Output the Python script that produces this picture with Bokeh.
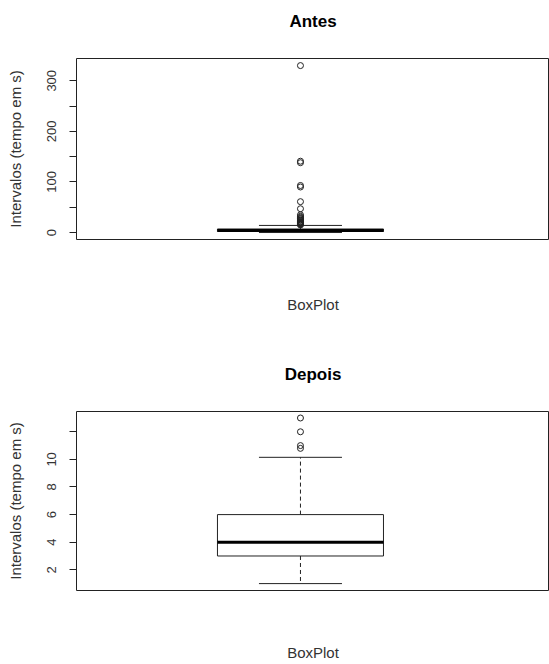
from bokeh.plotting import figure
from bokeh.layouts import column
from bokeh.models import FixedTicker, ColumnDataSource, Range1d, LinearAxis
from bokeh.embed import file_html
from bokeh.resources import INLINE

# ---- data ----
titles = ["Antes", "Depois"]
x_label = "BoxPlot"
y_label = "Intervalos (tempo em s)"

# [lower whisker, Q1, median, Q3, upper whisker]
antes_stats = [0, 2, 4, 7, 14]
antes_outliers = [330, 141, 138, 93, 90, 61, 47, 35, 32, 30, 28, 27, 25, 24, 22,
                  21, 20, 19, 18, 17, 16, 15]
depois_stats = [1, 3, 4, 6, 10.15]
depois_outliers = [13, 12, 11, 10.8]

antes_ticks = [0, 50, 100, 150, 200, 250, 300]
antes_labels = {50: "", 150: "", 250: ""}
depois_ticks = [2, 4, 6, 8, 10, 12]
depois_labels = {12: ""}

FONT = "Liberation Sans"
INK = "#222222"
WIDTH = 549
LEFT = 76


def label_only_axis(ax, text, size, style, color, standoff):
    ax.ticker = FixedTicker(ticks=[])
    ax.axis_line_color = None
    ax.major_tick_line_color = None
    ax.minor_tick_line_color = None
    ax.major_label_text_font_size = "0px"
    ax.axis_label = text
    ax.axis_label_text_font = FONT
    ax.axis_label_text_font_size = size
    ax.axis_label_text_font_style = style
    ax.axis_label_text_color = color
    ax.axis_label_standoff = standoff


def make_panel(title, stats, outliers, ticks, overrides, yr, height, top, bottom, title_standoff, xlab_standoff):
    p = figure(width=WIDTH, height=height, output_backend="svg", toolbar_location=None,
               x_range=Range1d(-0.349, 2.5), y_range=Range1d(*yr),
               min_border_left=LEFT, min_border_right=0, min_border_top=top,
               min_border_bottom=bottom)
    p.grid.visible = False
    p.background_fill_color = "white"
    p.border_fill_color = "white"
    p.outline_line_color = INK
    p.outline_line_width = 1
    p.outline_line_alpha = 1

    # x axis below: only the label
    label_only_axis(p.below[0], x_label, "15px", "normal", "#333333", xlab_standoff)

    # main title drawn as the label of a bare axis above the frame
    top_axis = LinearAxis()
    label_only_axis(top_axis, title, "17px", "bold", "black", title_standoff)
    p.add_layout(top_axis, "above")

    # y axis (R style)
    ya = p.left[0]
    ya.ticker = FixedTicker(ticks=ticks)
    ya.major_label_overrides = overrides
    ya.minor_tick_line_color = None
    ya.axis_line_color = None
    ya.major_tick_in = 0
    ya.major_tick_out = 7
    ya.major_tick_line_color = INK
    ya.major_label_orientation = "vertical"
    ya.major_label_text_font = FONT
    ya.major_label_text_font_size = "13px"
    ya.major_label_text_color = "#333333"
    ya.major_label_standoff = 13
    ya.axis_label = y_label
    ya.axis_label_text_font = FONT
    ya.axis_label_text_font_size = "15px"
    ya.axis_label_text_font_style = "normal"
    ya.axis_label_text_color = "#333333"
    ya.axis_label_standoff = 21

    lo, q1, med, q3, hi = stats
    xc = 1.0
    # whiskers (dashed)
    p.segment(x0=[xc, xc], y0=[q3, q1], x1=[xc, xc], y1=[hi, lo],
              line_color=INK, line_width=1, line_dash="4 3")
    # caps
    p.segment(x0=[xc - 0.25, xc - 0.25], y0=[hi, lo], x1=[xc + 0.25, xc + 0.25], y1=[hi, lo],
              line_color=INK, line_width=1)
    # box
    p.quad(left=[xc - 0.5], right=[xc + 0.5], bottom=[q1], top=[q3],
           fill_color="white", line_color=INK, line_width=1)
    # median
    p.segment(x0=[xc - 0.5], y0=[med], x1=[xc + 0.5], y1=[med],
              line_color="black", line_width=3)
    # outliers
    src = ColumnDataSource(dict(x=[xc] * len(outliers), y=outliers))
    p.scatter("x", "y", source=src, marker="circle", size=6,
              fill_color=None, line_color=INK, line_width=1)
    return p


p1 = make_panel(titles[0], antes_stats, antes_outliers, antes_ticks, antes_labels,
                (-13.8, 344), 336, 58, 97, 28, 56)
p2 = make_panel(titles[1], depois_stats, depois_outliers, depois_ticks, depois_labels,
                (0.5, 13.47), 328, 75, 74, 28, 53)

layout = column(p1, p2, spacing=0)
open("out.html", "w").write(file_html(layout, INLINE))
